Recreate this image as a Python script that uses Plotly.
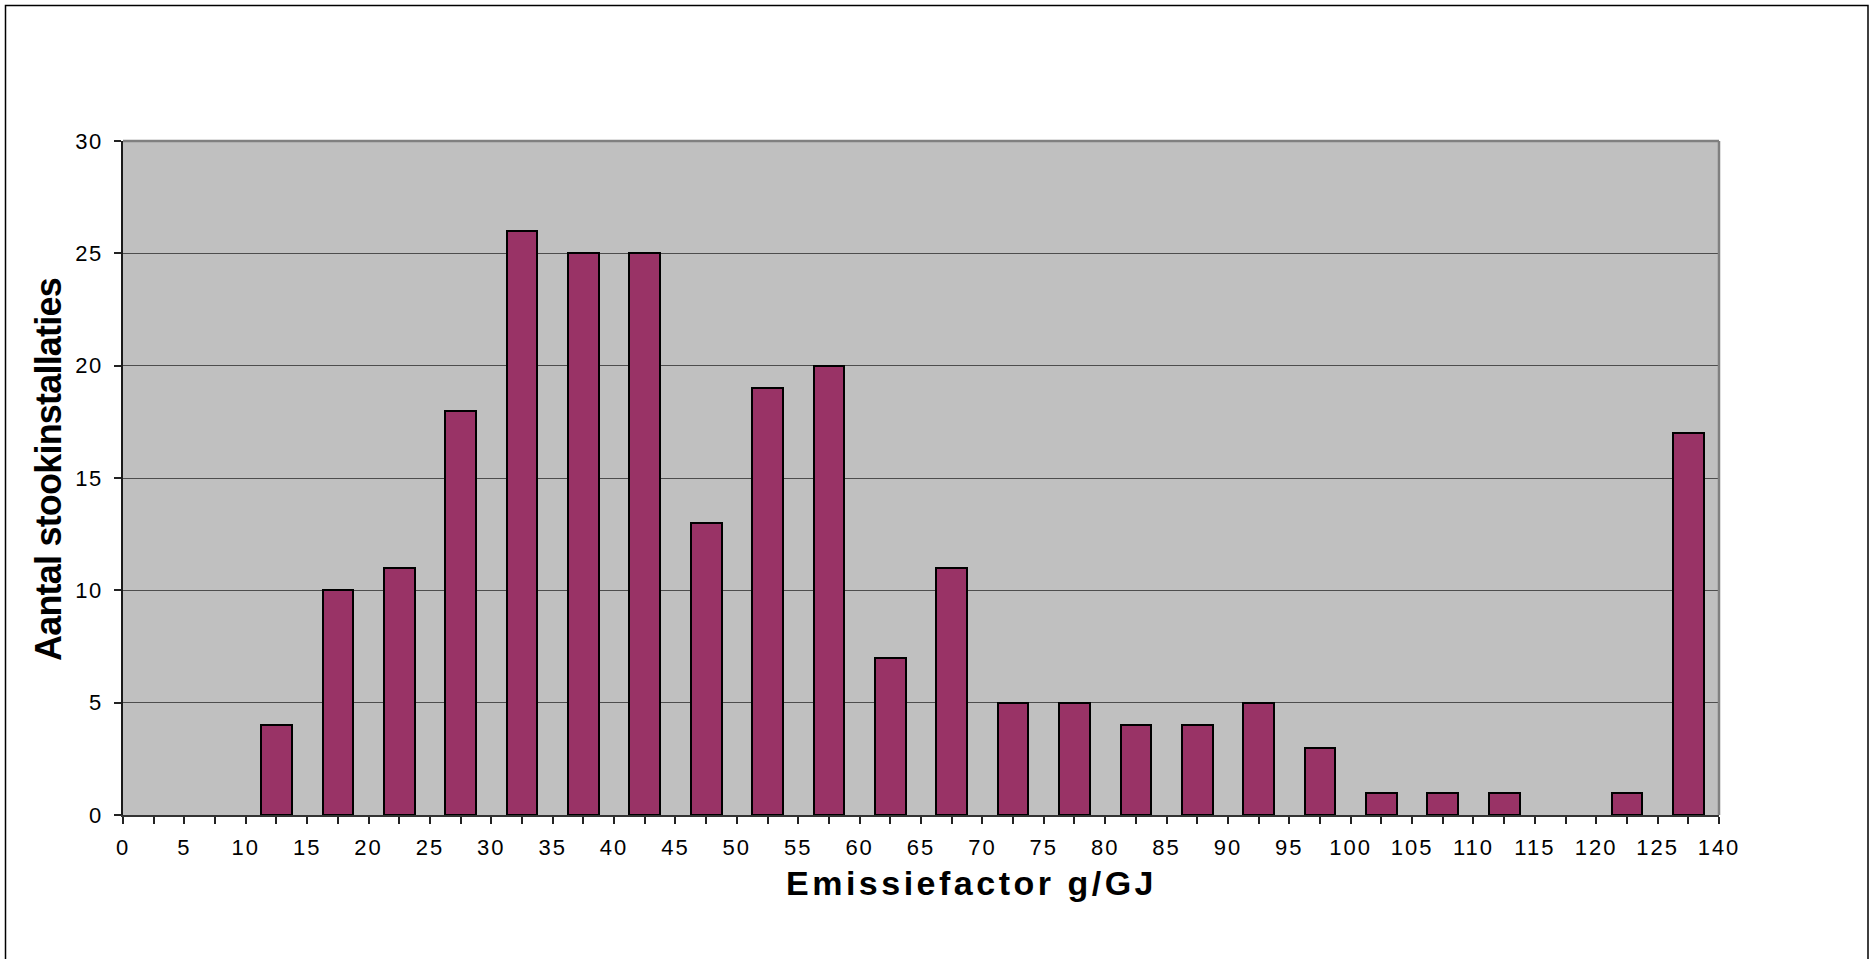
import plotly.graph_objects as go

# Bin edges (g/GJ) shown on the x axis; the last bin spans 125-140
bin_edges = ["0", "5", "10", "15", "20", "25", "30", "35", "40", "45", "50",
             "55", "60", "65", "70", "75", "80", "85", "90", "95", "100",
             "105", "110", "115", "120", "125", "140"]

# Number of combustion installations per emission-factor bin
counts = [0, 0, 4, 10, 11, 18, 26, 25, 25, 13, 19, 20, 7, 11, 5, 5, 4, 4,
          5, 3, 1, 1, 1, 0, 1, 17]

y_ticks = [0, 5, 10, 15, 20, 25, 30]

W, H = 1874, 959
L, R, T, B = 123, 1719, 141, 815  # plot-area pixel box


def px_x(p):
    return (p - L) / (R - L)


def px_y(p):
    return (B - p) / (B - T)


def spaced(s, sp):
    return f'<span style="letter-spacing:{sp}px">{s}</span>'


bin_pos = [i + 0.5 for i in range(len(counts))]
# empty bins get no outline
outline_w = [2 if c > 0 else 0 for c in counts]

fig = go.Figure()
fig.add_trace(go.Bar(
    x=bin_pos,
    y=counts,
    width=0.5,
    marker=dict(color="#993366", line=dict(color="#000000", width=outline_w)),
    hoverinfo="skip",
))

font_family = "Liberation Sans, Arial, sans-serif"

fig.update_layout(
    width=W,
    height=H,
    margin=dict(l=L, r=W - R, t=T, b=H - B, pad=0),
    paper_bgcolor="#ffffff",
    plot_bgcolor="#c0c0c0",
    showlegend=False,
    bargap=0,
    font=dict(family=font_family, color="#000000", size=22),
    xaxis=dict(
        range=[0, len(counts)],
        tickmode="array",
        tickvals=list(range(len(bin_edges))),
        ticktext=[spaced(t, 2) for t in bin_edges],
        ticks="outside",
        ticklen=7,
        tickwidth=1.5,
        tickcolor="#222222",
        minor=dict(ticks="outside", tick0=0.5, dtick=1, ticklen=7,
                   tickwidth=1.5, tickcolor="#222222", showgrid=False),
        showgrid=False,
        zeroline=False,
        showline=True,
        linecolor="#333333",
        linewidth=2,
        tickfont=dict(size=22, family=font_family, color="#000000"),
        ticklabelstandoff=5,
        fixedrange=True,
    ),
    yaxis=dict(
        range=[0, 30],
        tickmode="array",
        tickvals=y_ticks,
        ticktext=[spaced(str(v), 1.5) for v in y_ticks],
        ticks="outside",
        ticklen=7,
        tickwidth=1.5,
        tickcolor="#222222",
        showgrid=True,
        gridcolor="#4d4d4d",
        gridwidth=1,
        zeroline=False,
        showline=True,
        linecolor="#1a1a1a",
        linewidth=1.5,
        tickfont=dict(size=22, family=font_family, color="#000000"),
        ticklabelstandoff=7,
        fixedrange=True,
    ),
    shapes=[
        # top and right edges of the plot area
        dict(type="line", xref="paper", yref="paper", x0=0, x1=1, y0=1, y1=1,
             line=dict(color="#808080", width=2.5), layer="above"),
        dict(type="line", xref="paper", yref="paper", x0=1, x1=1, y0=0, y1=1,
             line=dict(color="#808080", width=2.5), layer="above"),
        # outer chart frame
        dict(type="rect", xref="paper", yref="paper",
             x0=px_x(5.5), x1=px_x(1868), y0=px_y(975), y1=px_y(5.5),
             line=dict(color="#000000", width=1.5), fillcolor="rgba(0,0,0,0)",
             layer="above"),
    ],
    annotations=[
        dict(text=spaced("Emissiefactor g/GJ", 3.5), xref="paper", yref="paper",
             x=px_x(971), y=px_y(883), xanchor="center", yanchor="middle",
             showarrow=False,
             font=dict(size=34, family=font_family, color="#000000",
                       weight="bold")),
        dict(text=spaced("Aantal stookinstallaties", -0.8), xref="paper",
             yref="paper", x=px_x(48), y=px_y(470), xanchor="center",
             yanchor="middle", textangle=-90, showarrow=False,
             font=dict(size=36, family=font_family, color="#000000",
                       weight="bold")),
    ],
)

fig.write_html("out.html")
